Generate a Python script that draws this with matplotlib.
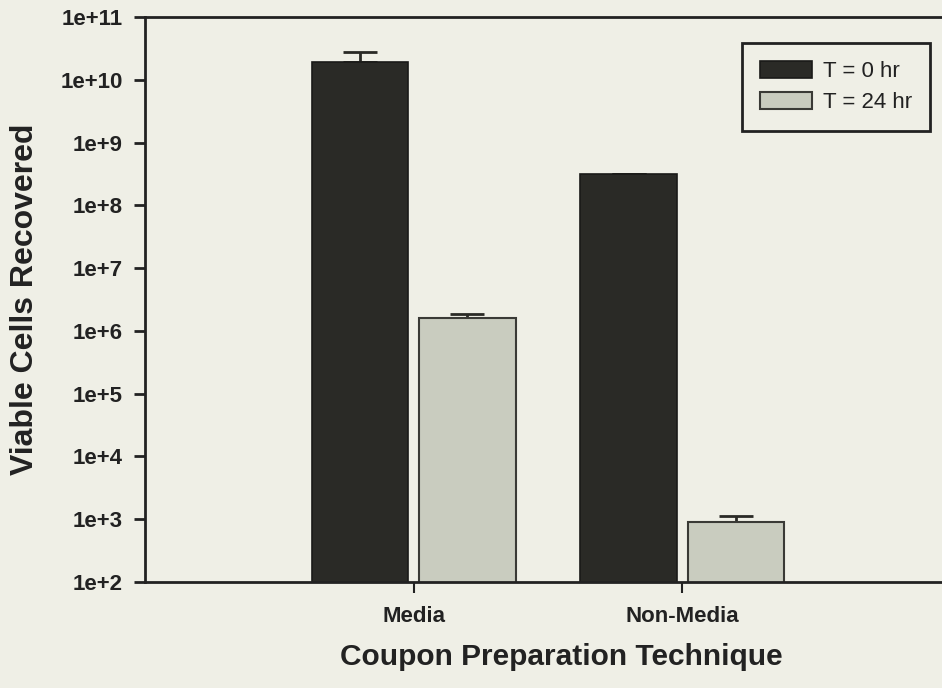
import numpy as np
import matplotlib
matplotlib.use("Agg")
import matplotlib.pyplot as plt
from matplotlib.ticker import FixedLocator, FuncFormatter, NullLocator

# Data
categories = ["Media", "Non-Media"]
t0_vals = [1.9e10, 3.1e8]
t0_err = [0.85e10, 0.1e8]
t24_vals = [1.6e6, 890]
t24_err = [0.26e6, 220]
series_labels = ["T = 0 hr", "T = 24 hr"]

bg = "#efefe6"
dark = "#2a2a26"
light = "#c9ccbf"

plt.rcParams["font.family"] = ["Liberation Sans", "DejaVu Sans"]

fig = plt.figure(figsize=(9.42, 6.88), dpi=100, facecolor=bg)
ax = fig.add_axes([145 / 942, 1 - 582 / 688, 1 - 145 / 942, (582 - 17) / 688])
ax.set_facecolor(bg)

x = np.arange(len(categories))
w = 0.36
off = 0.2

ax.bar(x - off, t0_vals, width=w, color=dark, edgecolor="#1a1a18", linewidth=1.2,
       label=series_labels[0], zorder=2)
ax.bar(x + off, t24_vals, width=w, color=light, edgecolor="#3a3a36", linewidth=1.5,
       label=series_labels[1], zorder=2)

ax.errorbar(x - off, t0_vals, yerr=[np.zeros(2), t0_err], fmt="none",
            ecolor="#2a2a26", elinewidth=2, capsize=12.5, capthick=2, zorder=1)
ax.errorbar(x + off, t24_vals, yerr=[np.zeros(2), t24_err], fmt="none",
            ecolor="#2a2a26", elinewidth=2, capsize=12.5, capthick=2, zorder=1)

ax.set_yscale("log")
ax.set_ylim(1e2, 1e11)
ax.set_xlim(-1.0, 1.967)

ax.yaxis.set_major_locator(FixedLocator([10.0 ** k for k in range(2, 12)]))
ax.yaxis.set_minor_locator(NullLocator())
ax.yaxis.set_major_formatter(FuncFormatter(lambda v, _: f"1e+{int(round(np.log10(v)))}"))
ax.set_xticks(x)
ax.set_xticklabels(categories)

for lab in ax.get_yticklabels():
    lab.set_fontweight("bold")
    lab.set_fontsize(16)
for lab in ax.get_xticklabels():
    lab.set_fontweight("bold")
    lab.set_fontsize(16)

ax.tick_params(axis="y", direction="out", length=8, width=2, color="#222", pad=8, labelcolor="#222")
ax.tick_params(axis="x", direction="out", length=8, width=1.5, color="#222", pad=9, labelcolor="#222")

for s in ["left", "top", "bottom"]:
    ax.spines[s].set_linewidth(2)
    ax.spines[s].set_color("#222")
ax.spines["right"].set_visible(False)

ax.set_ylabel("Viable Cells Recovered", fontsize=23, fontweight="bold", color="#222", labelpad=15)
ax.set_xlabel("Coupon Preparation Technique", fontsize=21.5, fontweight="bold", color="#222",
              labelpad=12, x=0.522)

leg = ax.legend(loc="upper right", bbox_to_anchor=((930 - 145) / 797, 1 - (43 - 17) / 565),
                fontsize=16, frameon=True, fancybox=False, edgecolor="#222",
                facecolor=bg, framealpha=1, handlelength=2.35, handleheight=0.8,
                borderpad=0.8, labelspacing=0.45, handletextpad=0.5, borderaxespad=0)
leg.get_frame().set_linewidth(2)
for t in leg.get_texts():
    t.set_color("#222")

fig.savefig("out.png", dpi=100, facecolor=bg)
